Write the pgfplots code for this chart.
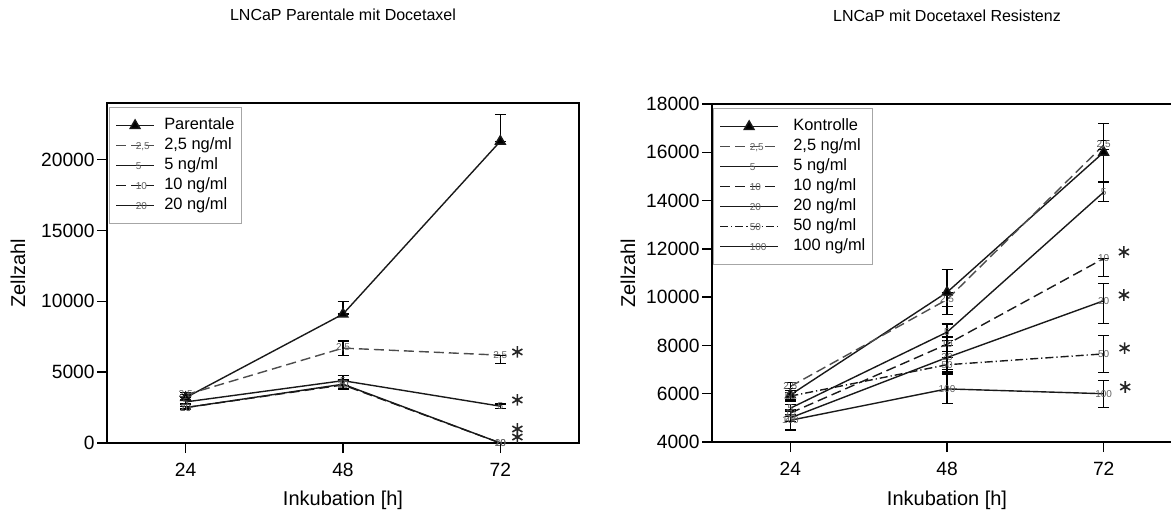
\documentclass[border=0pt]{standalone}
\usepackage{fontspec}
\setmainfont{Liberation Sans}
\usepackage{pgfplots}
\pgfplotsset{compat=1.18}

\pgfplotsset{
  zpanel/.style={
    scale only axis, anchor=south west,
    xmin=12, xmax=84, xtick={24,48,72},
    axis line style={line width=0.75pt, black},
    every tick/.style={line width=0.75pt, black},
    major tick length=5pt, tick align=outside,
    xtick pos=bottom, ytick pos=left,
    tick label style={font=\fontsize{9.6}{11}\selectfont},
    yticklabel style={inner xsep=1pt},
    xticklabel style={yshift=-1.5pt},
    label style={font=\fontsize{10}{12}\selectfont},
    every axis title shift=0pt,
    title style={font=\fontsize{8}{9}\selectfont, anchor=center},
    /pgf/number format/assume math mode=true,
    /pgf/number format/1000 sep={},
    scaled y ticks=false,
    clip=false,
    every axis plot/.append style={line width=0.7pt, black!90},
    legend cell align=left,
    legend style={draw=gray!70, line width=0.5pt, anchor=north west,
      font=\fontsize{8.2}{10}\selectfont, inner xsep=3pt, inner ysep=4.5pt,
      row sep=1pt,
      nodes={inner sep=0.75pt, text height=5.8pt, text depth=1.7pt}},
  },
  eb/.style={error bars/y dir=both, error bars/y explicit,
    error bars/error bar style={line width=0.6pt, black, solid},
    error bars/error mark options={rotate=90, mark size=2.75pt, line width=0.6pt, black, solid}},
  tm/.style={mark=text, text mark={#1}, text mark as node=true,
    text mark style={font=\fontsize{5}{5.5}\selectfont, text=gray!75!black, inner sep=0pt}},
  star/.style={only marks, mark=asterisk, mark size=2.9pt, forget plot,
    mark options={line width=0.8pt, black!85, solid}},
}

\begin{document}
\begin{tikzpicture}

% linke Grafik
\begin{axis}[zpanel, at={(53.5pt,33.5pt)}, width=236pt, height=170pt,
  ymin=0, ymax=24000, ytick={0,5000,10000,15000,20000},
  title={LNCaP Parentale mit Docetaxel},
  title style={at={(axis description cs:0.5,1.259)}},
  xlabel={Inkubation [h]},
  xlabel style={at={(axis description cs:0.5,-0.168)}, anchor=center},
  ylabel={Zellzahl},
  ylabel style={at={(axis description cs:-0.1886,0.5)}, anchor=center},
  legend style={at={(axis description cs:0.004,0.988)}, column sep=4pt},
  legend image code/.code={\draw[mark repeat=2,mark phase=2] plot coordinates {(0pt,0pt) (9.5pt,0pt) (19pt,0pt)};},
]
\addplot[eb, mark=triangle*, mark size=2.8pt, mark options={solid, fill=black}] coordinates {
  (24,3200) += (0,200) -= (0,200)
  (48,9100) += (0,900) -= (0,0)
  (72,21300) += (0,1900) -= (0,0)};
\addlegendentry{Parentale}
\addplot[eb, tm={2,5}, dash pattern=on 5pt off 2.5pt, black!70] coordinates {
  (24,3400) += (0,150) -= (0,150)
  (48,6700) += (0,500) -= (0,500)
  (72,6200) += (0,0) -= (0,600)};
\addlegendentry{2,5 ng/ml}
\addplot[eb, tm={5}] coordinates {
  (24,2900) += (0,150) -= (0,150)
  (48,4400) += (0,350) -= (0,350)
  (72,2600) += (0,150) -= (0,150)};
\addlegendentry{5 ng/ml}
\addplot[eb, tm={10}, dash pattern=on 5pt off 2.5pt] coordinates {
  (24,2500) += (0,100) -= (0,100)
  (48,4100) += (0,350) -= (0,350)
  (72,0) += (0,0) -= (0,0)};
\addlegendentry{10 ng/ml}
\addplot[eb, tm={20}] coordinates {
  (24,2500) += (0,100) -= (0,100)
  (48,4150) += (0,300) -= (0,300)
  (72,0) += (0,0) -= (0,0)};
\addlegendentry{20 ng/ml}
\addplot[star] coordinates {(74.6,6430) (74.6,3040) (74.6,990) (74.6,420)};
\end{axis}

% rechte Grafik
\begin{axis}[zpanel, at={(356pt,34pt)}, width=235pt, height=169pt,
  ymin=4000, ymax=18000, ytick={4000,6000,...,18000},
  title={LNCaP mit Docetaxel Resistenz},
  title style={at={(axis description cs:0.5,1.26)}},
  xlabel={Inkubation [h]},
  xlabel style={at={(axis description cs:0.5,-0.172)}, anchor=center},
  ylabel={Zellzahl},
  ylabel style={at={(axis description cs:-0.179,0.5)}, anchor=center},
  legend style={at={(axis description cs:0.002,0.988)}, column sep=6.5pt},
  legend image code/.code={\draw[mark repeat=2,mark phase=2] plot coordinates {(0pt,0pt) (14.5pt,0pt) (29pt,0pt)};},
]
\addplot[eb, mark=triangle*, mark size=2.8pt, mark options={solid, fill=black}] coordinates {
  (24,5950) += (0,250) -= (0,250)
  (48,10200) += (0,930) -= (0,930)
  (72,16000) += (0,1200) -= (0,1200)};
\addlegendentry{Kontrolle}
\addplot[eb, tm={2,5}, dash pattern=on 5pt off 2.5pt, black!70] coordinates {
  (24,6300) += (0,150) -= (0,150)
  (48,9900) += (0,300) -= (0,300)
  (72,16300) += (0,200) -= (0,200)};
\addlegendentry{2,5 ng/ml}
\addplot[eb, tm={5}] coordinates {
  (24,5400) += (0,150) -= (0,150)
  (48,8550) += (0,340) -= (0,340)
  (72,14350) += (0,400) -= (0,400)};
\addlegendentry{5 ng/ml}
\addplot[eb, tm={10}, dash pattern=on 5pt off 2.5pt] coordinates {
  (24,5200) += (0,150) -= (0,150)
  (48,8050) += (0,300) -= (0,300)
  (72,11600) += (0,0) -= (0,750)};
\addlegendentry{10 ng/ml}
\addplot[eb, tm={20}] coordinates {
  (24,5000) += (0,150) -= (0,150)
  (48,7500) += (0,500) -= (0,500)
  (72,9850) += (0,700) -= (0,950)};
\addlegendentry{20 ng/ml}
\addplot[eb, tm={50}, dash pattern=on 4pt off 1.5pt on 0.6pt off 1.5pt] coordinates {
  (24,5900) += (0,150) -= (0,150)
  (48,7200) += (0,300) -= (0,300)
  (72,7650) += (0,770) -= (0,770)};
\addlegendentry{50 ng/ml}
\addplot[eb, tm={100}] coordinates {
  (24,4900) += (0,400) -= (0,400)
  (48,6200) += (0,620) -= (0,620)
  (72,6000) += (0,560) -= (0,560)};
\addlegendentry{100 ng/ml}
\addplot[star] coordinates {(75.1,11870) (75.1,10090) (75.2,7890) (75.3,6280)};
\end{axis}

\pgfresetboundingbox
\useasboundingbox (0pt,0pt) rectangle (585.5pt,255pt);
\end{tikzpicture}
\end{document}
